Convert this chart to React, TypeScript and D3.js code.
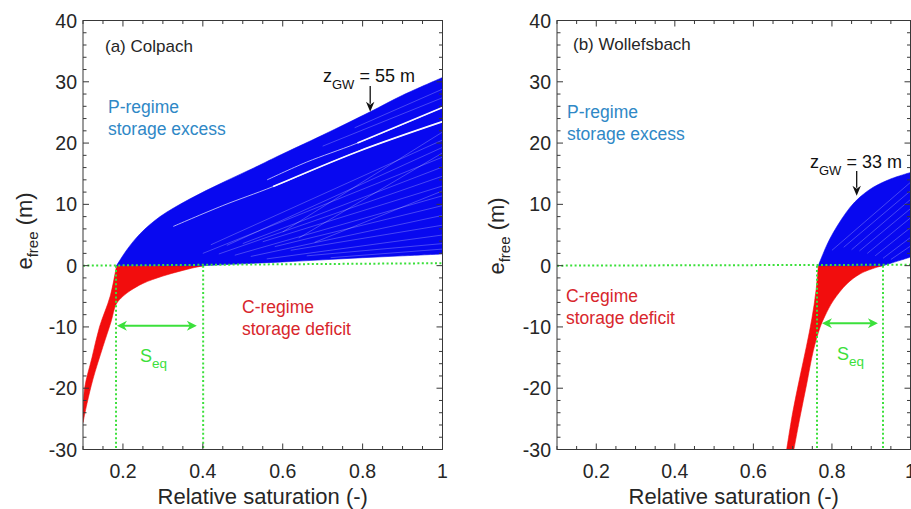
import React from 'react';
import * as d3 from 'd3';

type Pt = [number, number];

// ---------- shared axis data ----------
const xTickValues = [0.2, 0.4, 0.6, 0.8, 1];
const xTickLabels = ['0.2', '0.4', '0.6', '0.8', '1'];
const yTickValues = [-30, -20, -10, 0, 10, 20, 30, 40];
const yTickLabels = ['-30', '-20', '-10', '0', '10', '20', '30', '40'];

// ---------- (a) Colpach ----------
// upper envelope (z_GW = 55 m curve), negative and positive part
const colpachUpperNeg: Pt[] = [[0.1, -24.3], [0.104, -20.0], [0.1225, -15.0], [0.1413, -10.0], [0.168, -5.0], [0.184, 0]];
const colpachUpperPos: Pt[] = [[0.184, 0], [0.21, 2.6], [0.243, 5.2], [0.293, 8.0], [0.368, 10.9], [0.451, 13.6], [0.536, 16.2], [0.586, 17.8], [0.7, 21.3], [0.819, 25.1], [0.9, 27.8], [1.0, 30.7]];
// lower envelope
const colpachLowerNeg: Pt[] = [[0.1, -25.6], [0.11, -22.5], [0.125, -18.5], [0.15, -13.2], [0.17, -9.2], [0.183, -6.3], [0.2, -5.0], [0.218, -4.1], [0.25, -2.9], [0.3, -1.7], [0.343, -0.9], [0.38, -0.3], [0.403, 0]];
const colpachLowerPos: Pt[] = [[0.403, 0], [0.5, 0.3], [0.6, 0.6], [0.7, 0.95], [0.8, 1.3], [0.9, 1.6], [1.0, 1.9]];
// visible gaps between the individual curves (thin from first point, wide from third)
const colpachGaps: Pt[][] = [
  [[0.561, 14.0], [0.66, 16.9], [0.787, 20.0], [1.0, 25.8]],
  [[0.326, 6.4], [0.45, 9.8], [0.576, 12.9], [0.787, 18.6], [1.0, 23.5]],
];
const colpachFaint: [number, number, number][] = [
  [0.42, 3.4, 20.5], [0.46, 3.3, 19.3], [0.4, 2.0, 17.7], [0.5, 3.6, 16.1], [0.44, 1.9, 14.6],
  [0.55, 3.9, 13.0], [0.48, 1.7, 11.4], [0.58, 3.1, 9.8], [0.52, 1.5, 8.2], [0.62, 2.5, 6.6],
  [0.56, 1.1, 5.0], [0.66, 1.6, 3.6], [0.72, 1.3, 2.7], [0.7, 19.5, 27.4], [0.78, 22.5, 28.8],
  [0.6, 5.5, 21.8], [0.64, 4.5, 18.4], [0.68, 3.8, 12.2],
];
const colpachSeq: [number, number] = [0.1827, 0.4008];
const colpachZeroLine: Pt[] = [[0.1, 0], [1.0, 0.4]];
const colpachSeqArrow: [number, number, number] = [0.185, 0.385, -9.8];
const colpachZgw = { text: '55', s: 0.819, e: 25.1 };

// ---------- (b) Wollefsbach ----------
const wollUpperNeg: Pt[] = [[0.6835, -30.5], [0.7, -24.0], [0.718, -18.3], [0.735, -13.2], [0.749, -8.6], [0.7594, -4.1], [0.7653, 0]];
const wollUpperPos: Pt[] = [[0.7653, 0], [0.7866, 3.3], [0.8035, 5.4], [0.8248, 7.6], [0.846, 9.5], [0.8714, 11.2], [0.9053, 12.8], [0.9478, 14.1], [1.0, 15.2]];
const wollLowerNeg: Pt[] = [[0.7016, -30.5], [0.7187, -24.7], [0.7357, -19.3], [0.7525, -13.9], [0.7696, -10.1], [0.7823, -8.2], [0.8035, -5.7], [0.8376, -3.0], [0.8714, -1.35], [0.914, -0.27], [0.9308, 0]];
const wollLowerPos: Pt[] = [[0.9308, 0], [0.955, 0.5], [0.978, 0.95], [1.0, 1.4]];
const wollGaps: Pt[][] = [];
const wollFaint: [number, number, number][] = [
  [0.8, 2.5, 13.6], [0.83, 3.0, 12.2], [0.85, 2.6, 10.8], [0.87, 2.4, 9.3],
  [0.89, 2.0, 7.8], [0.91, 1.6, 6.2], [0.93, 1.2, 4.6], [0.95, 1.0, 3.2],
];
const wollSeq: [number, number] = [0.762, 0.93];
const wollZeroLine: Pt[] = [[0.1, 0], [1.0, 0.15]];
const wollSeqArrow: [number, number, number] = [0.7747, 0.917, -9.4];
const wollZgw = { text: '33', s: 0.863, e: 11.4 };

// ---------- layout / style ----------
const W = 911;
const H = 509;
const TOP = 20.5;
const BOTTOM = 449.5;
const FONT = "'Liberation Sans', Arial, Helvetica, sans-serif";
const AXIS = '#383838';
const TXT = '#262626';
const BLUE = '#0808f0';
const RED = '#f20d0d';
const GREEN = '#3be03b';
const PBLUE = '#2f88c6';
const PRED = '#d8262c';

interface Cfg {
  id: string;
  left: number;
  right: number;
  title: string;
  upperNeg: Pt[]; upperPos: Pt[]; lowerNeg: Pt[]; lowerPos: Pt[];
  gaps: Pt[][]; faint: [number, number, number][];
  seq: [number, number]; zero: Pt[]; seqArrow: [number, number, number];
  zgw: { text: string; s: number; e: number };
  titlePos: [number, number];
  pPos: [number, number];
  cPos: [number, number];
  zPos: [number, number];
  zArrowTop: number;
  sPos: [number, number];
  yLabelPos: [number, number];
}

const panels: Cfg[] = [
  {
    id: 'a', left: 83, right: 442.5, title: '(a) Colpach',
    upperNeg: colpachUpperNeg, upperPos: colpachUpperPos, lowerNeg: colpachLowerNeg, lowerPos: colpachLowerPos,
    gaps: colpachGaps, faint: colpachFaint, seq: colpachSeq, zero: colpachZeroLine, seqArrow: colpachSeqArrow, zgw: colpachZgw,
    titlePos: [105, 52], pPos: [108, 113], cPos: [242, 313], zPos: [323, 82], zArrowTop: 86, sPos: [140, 362], yLabelPos: [32, 231],
  },
  {
    id: 'b', left: 557, right: 910.5, title: '(b) Wollefsbach',
    upperNeg: wollUpperNeg, upperPos: wollUpperPos, lowerNeg: wollLowerNeg, lowerPos: wollLowerPos,
    gaps: wollGaps, faint: wollFaint, seq: wollSeq, zero: wollZeroLine, seqArrow: wollSeqArrow, zgw: wollZgw,
    titlePos: [573, 50], pPos: [567, 118], cPos: [566, 302], zPos: [810, 168], zArrowTop: 171, sPos: [837, 360], yLabelPos: [504, 236],
  },
];

function head(tx: number, ty: number, dx: number, dy: number, len: number, hw: number): string {
  const L = Math.hypot(dx, dy) || 1;
  const ux = dx / L, uy = dy / L;
  const px = -uy, py = ux;
  const bx = tx - ux * len, by = ty - uy * len;
  const nx = tx - ux * len * 0.7, ny = ty - uy * len * 0.7;
  return `M${tx},${ty}L${bx + px * hw},${by + py * hw}L${nx},${ny}L${bx - px * hw},${by - py * hw}Z`;
}

function Panel({ cfg }: { cfg: Cfg }) {
  const x = d3.scaleLinear().domain([0.1, 1]).range([cfg.left, cfg.right]);
  const y = d3.scaleLinear().domain([-30, 40]).range([BOTTOM, TOP]);
  const line = d3.line<Pt>().x(d => x(d[0])).y(d => y(d[1])).curve(d3.curveCatmullRom.alpha(0.5));
  const straight = d3.line<Pt>().x(d => x(d[0])).y(d => y(d[1]));
  const seg = (pts: Pt[], first: boolean) => {
    const s = line(pts) as string;
    return first ? s : 'L' + s.slice(1);
  };
  const redPath = seg(cfg.upperNeg, true) + seg([...cfg.lowerNeg].reverse(), false) + 'Z';
  const bluePath = seg(cfg.upperPos, true) + seg([...cfg.lowerPos].reverse(), false) +
    `L${x(cfg.upperPos[0][0])},${y(0)}Z`;

  const xMinor = d3.range(0.1, 1.0001, 0.05).filter(v => !xTickValues.some(t => Math.abs(t - v) < 1e-6));
  const yMinor = d3.range(-30, 40.001, 2).filter(v => v % 10 !== 0);
  const clipId = `clip-${cfg.id}`;
  const midX = (cfg.left + cfg.right) / 2;

  // annotations
  const tipX = x(cfg.zgw.s), tipY = y(cfg.zgw.e);
  const [s0, s1, se] = cfg.seqArrow;
  const ax0 = x(s0), ax1 = x(s1), ay = y(se);

  return (
    <g>
      <defs>
        <clipPath id={clipId}>
          <rect x={cfg.left} y={TOP} width={cfg.right - cfg.left} height={BOTTOM - TOP} />
        </clipPath>
      </defs>
      <g clipPath={`url(#${clipId})`}>
        <path d={redPath} fill={RED} stroke={RED} strokeWidth={0.6} strokeLinejoin="round" />
        <path d={bluePath} fill={BLUE} stroke={BLUE} strokeWidth={0.6} strokeLinejoin="round" />
        {cfg.faint.map((f, i) => (
          <path key={'f' + i} d={straight([[f[0], f[1]], [1, f[2]]]) as string} stroke="#ffffff" strokeOpacity={0.5} strokeWidth={0.5} fill="none" />
        ))}
        {cfg.gaps.map((g, i) => (
          <g key={'g' + i}>
            <path d={line(g) as string} stroke="#ffffff" strokeOpacity={0.85} strokeWidth={0.8} fill="none" />
            <path d={line(g.slice(2)) as string} stroke="#ffffff" strokeOpacity={0.95} strokeWidth={1.6} fill="none" />
          </g>
        ))}
        {/* green dotted guide lines */}
        <path d={straight(cfg.zero) as string} stroke={GREEN} strokeWidth={2} strokeDasharray="2 2.4" fill="none" />
        {cfg.seq.map((s, i) => (
          <line key={'v' + i} x1={x(s)} x2={x(s)} y1={y(0)} y2={BOTTOM} stroke={GREEN} strokeWidth={2} strokeDasharray="2 2.4" />
        ))}
      </g>

      {/* axes box */}
      <rect x={cfg.left} y={TOP} width={cfg.right - cfg.left} height={BOTTOM - TOP} fill="none" stroke={AXIS} strokeWidth={1} />
      {xTickValues.map(v => (
        <g key={'xt' + v}>
          <line x1={x(v)} x2={x(v)} y1={BOTTOM} y2={BOTTOM - 6} stroke={AXIS} />
          <line x1={x(v)} x2={x(v)} y1={TOP} y2={TOP + 6} stroke={AXIS} />
        </g>
      ))}
      {xMinor.map(v => (
        <g key={'xm' + v}>
          <line x1={x(v)} x2={x(v)} y1={BOTTOM} y2={BOTTOM - 3.5} stroke={AXIS} />
          <line x1={x(v)} x2={x(v)} y1={TOP} y2={TOP + 3.5} stroke={AXIS} />
        </g>
      ))}
      {yTickValues.map(v => (
        <g key={'yt' + v}>
          <line x1={cfg.left} x2={cfg.left + 6} y1={y(v)} y2={y(v)} stroke={AXIS} />
          <line x1={cfg.right} x2={cfg.right - 6} y1={y(v)} y2={y(v)} stroke={AXIS} />
        </g>
      ))}
      {yMinor.map(v => (
        <g key={'ym' + v}>
          <line x1={cfg.left} x2={cfg.left + 3.5} y1={y(v)} y2={y(v)} stroke={AXIS} />
          <line x1={cfg.right} x2={cfg.right - 3.5} y1={y(v)} y2={y(v)} stroke={AXIS} />
        </g>
      ))}
      <g fontFamily={FONT} fontSize={19.5} fill={TXT}>
        {xTickValues.map((v, i) => (
          <text key={'xl' + v} x={x(v)} y={478} textAnchor="middle">{xTickLabels[i]}</text>
        ))}
        {yTickValues.map((v, i) => (
          <text key={'yl' + v} x={cfg.left - 6} y={y(v) + 7} textAnchor="end">{yTickLabels[i]}</text>
        ))}
      </g>
      <text x={midX} y={504} textAnchor="middle" fontFamily={FONT} fontSize={22} fill={TXT}>Relative saturation (-)</text>
      <text transform={`translate(${cfg.yLabelPos[0]},${cfg.yLabelPos[1]}) rotate(-90)`} textAnchor="middle" fontFamily={FONT} fontSize={22} fill={TXT} style={{ whiteSpace: 'pre' }}>
        <tspan>e</tspan><tspan fontSize={15} dy={6}>free</tspan><tspan dy={-6}>{' (m)'}</tspan>
      </text>

      {/* annotations */}
      <text x={cfg.titlePos[0]} y={cfg.titlePos[1]} fontFamily={FONT} fontSize={17} fill={TXT}>{cfg.title}</text>
      <g fontFamily={FONT} fontSize={17.5} fill={PBLUE}>
        <text x={cfg.pPos[0]} y={cfg.pPos[1]}>P-regime</text>
        <text x={cfg.pPos[0]} y={cfg.pPos[1] + 22}>storage excess</text>
      </g>
      <g fontFamily={FONT} fontSize={17.5} fill={PRED}>
        <text x={cfg.cPos[0]} y={cfg.cPos[1]}>C-regime</text>
        <text x={cfg.cPos[0]} y={cfg.cPos[1] + 22}>storage deficit</text>
      </g>
      <text x={cfg.zPos[0]} y={cfg.zPos[1]} fontFamily={FONT} fontSize={18} fill="#111" style={{ whiteSpace: 'pre' }}>
        <tspan>z</tspan><tspan fontSize={13} dy={7}>GW</tspan><tspan dy={-7}>{` = ${cfg.zgw.text} m`}</tspan>
      </text>
      <line x1={tipX} x2={tipX} y1={cfg.zArrowTop} y2={tipY - 8} stroke="#111" strokeWidth={1.3} />
      <path d={head(tipX, tipY, 0, 1, 10, 4.2)} fill="#111" />
      <line x1={ax0 + 6} x2={ax1 - 6} y1={ay} y2={ay} stroke={GREEN} strokeWidth={2} />
      <path d={head(ax0, ay, -1, 0, 10, 5)} fill={GREEN} />
      <path d={head(ax1, ay, 1, 0, 10, 5)} fill={GREEN} />
      <text x={cfg.sPos[0]} y={cfg.sPos[1]} fontFamily={FONT} fontSize={18} fill={GREEN} style={{ whiteSpace: 'pre' }}>
        <tspan>S</tspan><tspan fontSize={13.5} dy={6}>eq</tspan>
      </text>
    </g>
  );
}

export default function App() {
  return (
    <svg width={W} height={H} viewBox={`0 0 ${W} ${H}`} style={{ position: 'absolute', left: 0, top: 0, background: '#ffffff' }}>
      <rect x={0} y={0} width={W} height={H} fill="#ffffff" />
      {panels.map(p => <Panel key={p.id} cfg={p} />)}
    </svg>
  );
}
